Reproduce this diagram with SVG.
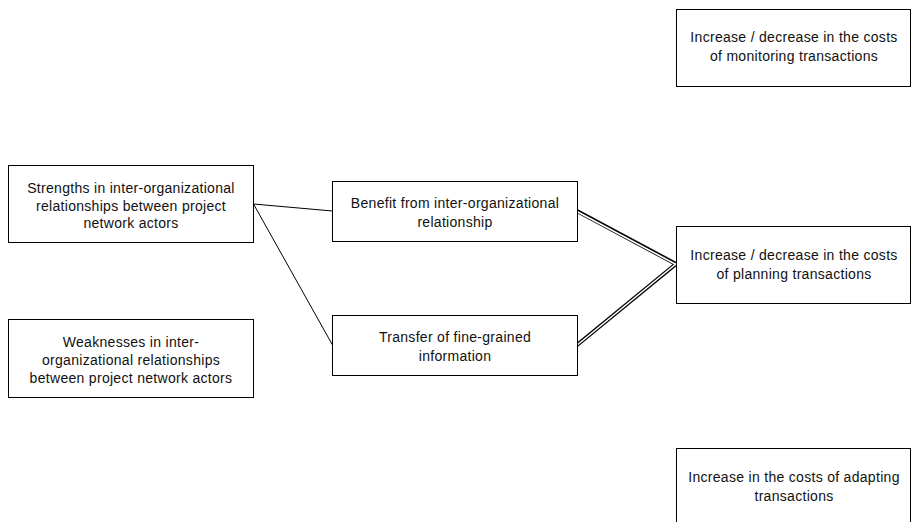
<svg xmlns="http://www.w3.org/2000/svg" width="911" height="522" viewBox="0 0 911 522">
  <style>
    .box { fill: #fff; stroke: #000; stroke-width: 1; }
    .lbl { font-family: "Liberation Sans", Arial, sans-serif; font-size: 14px; letter-spacing: 0.3px; fill: #111; text-anchor: middle; }
    .single { stroke: #000; stroke-width: 1; fill: none; }
    .dbl-outer { stroke: #000; stroke-width: 4; fill: none; }
    .dbl-inner { stroke: #fff; stroke-width: 1.6; fill: none; }
  </style>
  <rect width="911" height="522" fill="#fff"/>

  <g id="connectors">
    <line class="single" x1="253.5" y1="204" x2="332.5" y2="211"/>
    <line class="single" x1="253.5" y1="204" x2="332.5" y2="345"/>
    <line class="dbl-outer" x1="577" y1="211" x2="676" y2="264"/>
    <line class="dbl-outer" x1="577" y1="345" x2="676" y2="264"/>
    <line class="dbl-inner" x1="576" y1="211" x2="677" y2="265"/>
    <line class="dbl-inner" x1="576" y1="346" x2="677" y2="263"/>
  </g>

  <g id="strengths">
    <rect class="box" x="8.5" y="165.5" width="245" height="77"/>
    <text class="lbl" x="131" y="193">Strengths in inter-organizational</text>
    <text class="lbl" x="131" y="211">relationships between project</text>
    <text class="lbl" x="131" y="228">network actors</text>
  </g>

  <g id="weaknesses">
    <rect class="box" x="8.5" y="319.5" width="245" height="78"/>
    <text class="lbl" x="131" y="347">Weaknesses in inter-</text>
    <text class="lbl" x="131" y="365">organizational relationships</text>
    <text class="lbl" x="131" y="383">between project network actors</text>
  </g>

  <g id="benefit">
    <rect class="box" x="332.5" y="181.5" width="245" height="60"/>
    <text class="lbl" x="455" y="208">Benefit from inter-organizational</text>
    <text class="lbl" x="455" y="227">relationship</text>
  </g>

  <g id="transfer">
    <rect class="box" x="332.5" y="315.5" width="245" height="60"/>
    <text class="lbl" x="455" y="342">Transfer of fine-grained</text>
    <text class="lbl" x="455" y="361">information</text>
  </g>

  <g id="monitoring">
    <rect class="box" x="676.5" y="9.5" width="234" height="77"/>
    <text class="lbl" x="794" y="42">Increase / decrease in the costs</text>
    <text class="lbl" x="794" y="61">of monitoring transactions</text>
  </g>

  <g id="planning">
    <rect class="box" x="676.5" y="226.5" width="234" height="77"/>
    <text class="lbl" x="794" y="260">Increase / decrease in the costs</text>
    <text class="lbl" x="794" y="279">of planning transactions</text>
  </g>

  <g id="adapting">
    <rect class="box" x="676.5" y="448.5" width="234" height="90"/>
    <text class="lbl" x="794" y="482">Increase in the costs of adapting</text>
    <text class="lbl" x="794" y="501">transactions</text>
  </g>
</svg>
